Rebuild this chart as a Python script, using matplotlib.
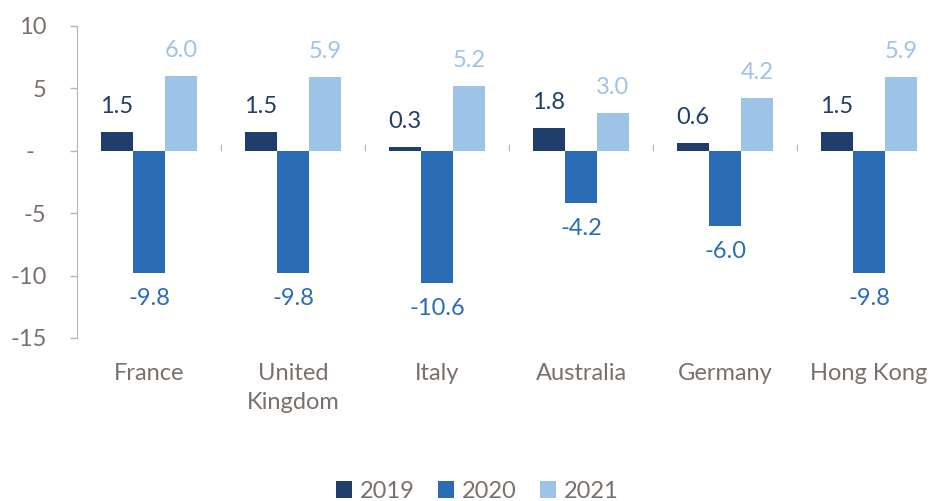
import matplotlib
matplotlib.use("Agg")
import matplotlib.pyplot as plt
import numpy as np
from matplotlib.patches import Patch

categories = ["France", "United\nKingdom", "Italy", "Australia", "Germany", "Hong Kong"]
series_names = ["2019", "2020", "2021"]
v2019 = [1.5, 1.5, 0.3, 1.8, 0.6, 1.5]
v2020 = [-9.8, -9.8, -10.6, -4.2, -6.0, -9.8]
v2021 = [6.0, 5.9, 5.2, 3.0, 4.2, 5.9]
yticks = [10, 5, 0, -5, -10, -15]
ytick_labels = ["10", "5", "-  ", "-5", "-10", "-15"]

colors = ["#1f3e6c", "#2a6cb6", "#9dc3e6"]
txt_color = "#7a706b"
axis_color = "#bdb3ac"
font = "Lato"

plt.rcParams['font.family'] = [font, 'DejaVu Sans']

fig = plt.figure(figsize=(9.33, 5.01), dpi=100)
ax = fig.add_axes([77/933, 163/501, 864/933, 312/501])

x = np.arange(len(categories))
bw = 1/4.5
data = [v2019, v2020, v2021]
for i, (vals, c) in enumerate(zip(data, colors)):
    pos = x + (i - 1) * bw
    ax.bar(pos, vals, width=bw, color=c, zorder=3)
    for xp, v in zip(pos, vals):
        off = 11 if v >= 0 else -11
        ax.annotate(f"{v:.1f}", (xp, v), xytext=(0, off), textcoords="offset points",
                    ha="center", va="bottom" if v >= 0 else "top",
                    color=c, fontsize=17)

ax.set_xlim(-0.5, len(categories) - 0.5)
ax.set_ylim(-15, 10)
ax.set_yticks(yticks)
ax.set_yticklabels(ytick_labels)
ax.tick_params(axis="y", length=5, width=1, color=axis_color, labelcolor=txt_color,
               labelsize=17, pad=17)
ax.set_xticks(x)
ax.set_xticklabels(categories, linespacing=1.45)
ax.tick_params(axis="x", length=0, labelcolor=txt_color, labelsize=17, pad=18)
for s in ["top", "right", "bottom"]:
    ax.spines[s].set_visible(False)
ax.spines["left"].set_color(axis_color)

zero_loc = (0 - (-15)) / (10 - (-15))
sec = ax.secondary_xaxis(zero_loc)
sec.set_xticks(x[:-1] + 0.5)
sec.set_xticklabels([])
sec.tick_params(length=5, color=axis_color, direction="out")
sec.spines["bottom"].set_color(axis_color)
for s in ["top", "left", "right"]:
    if s in sec.spines:
        sec.spines[s].set_visible(False)

handles = [Patch(facecolor=c, edgecolor="none") for c in colors]
fig.legend(handles, series_names, loc="center", bbox_to_anchor=(477/933, 1 - 491/501),
           ncol=3, frameon=False, fontsize=17, handlelength=0.7, handleheight=0.7,
           handletextpad=0.3, columnspacing=1.0, labelcolor=txt_color)

fig.savefig("out.png", dpi=100)
